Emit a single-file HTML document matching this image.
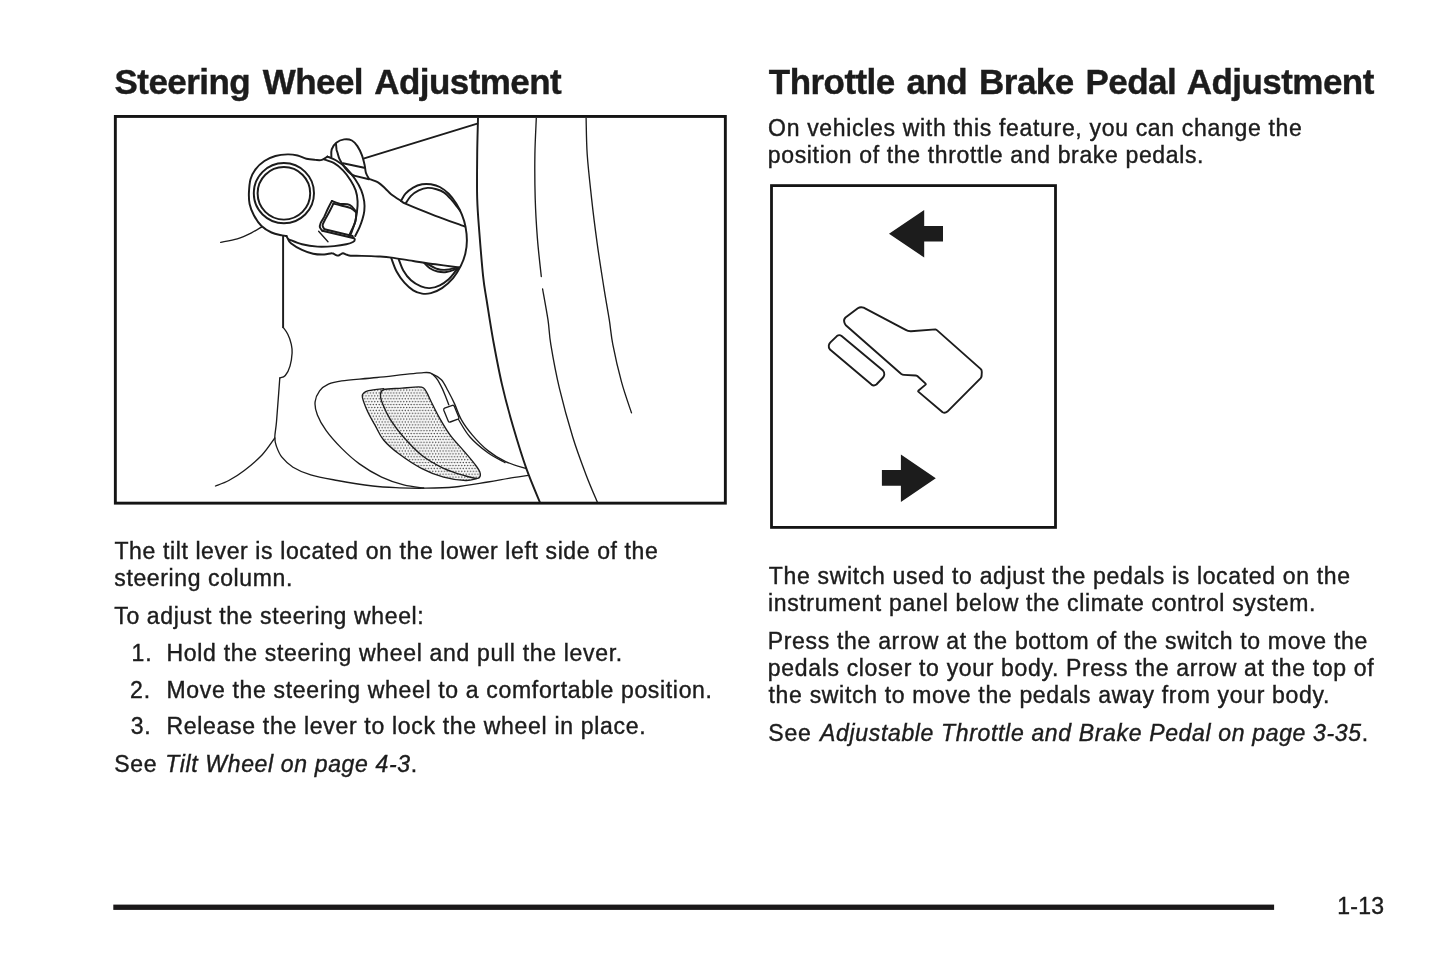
<!DOCTYPE html>
<html lang="en">
<head>
<meta charset="utf-8">
<title>Steering Wheel Adjustment</title>
<style>
html,body{margin:0;padding:0;background:#fff;}
body{width:1445px;height:966px;position:relative;overflow:hidden;
 font-family:"Liberation Sans",Arial,Helvetica,sans-serif;color:#1c1c1c;}
.t{position:absolute;white-space:nowrap;margin:0;padding:0;-webkit-text-stroke:0.4px #1c1c1c;}
#txt{position:absolute;left:0;top:0;width:1445px;height:966px;will-change:transform;}
svg{position:absolute;left:0;top:0;overflow:visible;}
</style>
</head>
<body>
<svg width="1445" height="966" viewBox="0 0 1445 966">
<rect x="115.35" y="116.45" width="610" height="386.7" fill="#fff" stroke="#141414" stroke-width="2.9"/>
<rect x="771.5" y="185.6" width="284" height="341.8" fill="#fff" stroke="#141414" stroke-width="2.8"/>
<rect x="113.3" y="904.6" width="1160.8" height="5.3" fill="#1a1819"/>
</svg>
<svg width="1445" height="966" viewBox="0 0 1445 966">
<defs><pattern id="dots" width="2.9" height="5.8" patternUnits="userSpaceOnUse"><rect width="2.9" height="5.8" fill="#fbfbfb"/><circle cx="0.72" cy="1.45" r="0.74" fill="#404040"/><circle cx="2.17" cy="4.35" r="0.74" fill="#404040"/></pattern></defs>
<clipPath id="lbox"><rect x="117" y="118" width="607.5" height="384"/></clipPath>
<g clip-path="url(#lbox)">
<path d="M383.8 388.6C381.2 388.9 371.9 389.8 368.5 390.6C365.1 391.4 364.6 392.1 363.6 393.2C362.6 394.3 361.7 394.3 362.4 397.4C363.1 400.4 365.4 406.7 367.6 411.5C369.8 416.3 372.8 421.4 375.5 426.1C378.2 430.9 379.8 435.4 383.6 440.0C387.4 444.6 392.2 448.8 398.5 453.5C404.8 458.2 413.9 464.4 421.4 468.3C428.9 472.2 436.2 475.1 443.6 477.1C451.0 479.1 460.2 480.3 465.7 480.5C471.2 480.7 474.9 478.8 476.8 478.5L465.7 476L443.6 468.3L421.4 455L403.7 437.3L390.4 419.6L382.7 404.1L380.5 395.2Z" fill="url(#dots)" stroke="none"/>
<path d="M383.8 389.7C387.4 388.5 396.2 388.7 402.0 388.2C407.8 387.7 414.9 386.9 418.5 386.9C422.1 386.9 422.2 386.9 423.6 388.0C425.1 389.1 426.0 391.2 427.2 393.3C428.4 395.4 428.6 396.5 430.6 400.5C432.6 404.5 435.9 411.6 439.2 417.4C442.5 423.2 446.1 429.6 450.2 435.1C454.2 440.6 459.4 445.8 463.5 450.6C467.6 455.4 471.8 460.2 474.6 463.9C477.4 467.6 479.6 470.3 480.1 472.7C480.7 475.1 480.3 477.8 477.9 478.3C475.5 478.9 471.4 477.7 465.7 476.0C460.0 474.3 451.0 471.8 443.6 468.3C436.2 464.8 428.0 460.2 421.4 455.0C414.8 449.8 408.9 443.2 403.7 437.3C398.5 431.4 393.9 425.1 390.4 419.6C386.9 414.1 384.3 408.2 382.7 404.1C381.1 400.0 380.3 397.6 380.5 395.2C380.7 392.8 380.2 390.9 383.8 389.7Z" fill="url(#dots)" stroke="none"/>
<g fill="none" stroke="#1c1c1c" stroke-width="1.35" stroke-linecap="round" stroke-linejoin="round">
<path d="M383.8 388.6C381.2 388.9 371.9 389.8 368.5 390.6C365.1 391.4 364.6 392.1 363.6 393.2C362.6 394.3 361.7 394.3 362.4 397.4C363.1 400.4 365.4 406.7 367.6 411.5C369.8 416.3 372.8 421.4 375.5 426.1C378.2 430.9 379.8 435.4 383.6 440.0C387.4 444.6 392.2 448.8 398.5 453.5C404.8 458.2 413.9 464.4 421.4 468.3C428.9 472.2 436.2 475.1 443.6 477.1C451.0 479.1 460.2 480.3 465.7 480.5C471.2 480.7 474.9 478.8 476.8 478.5"/>
<path d="M383.8 389.7C387.4 388.5 396.2 388.7 402.0 388.2C407.8 387.7 414.9 386.9 418.5 386.9C422.1 386.9 422.2 386.9 423.6 388.0C425.1 389.1 426.0 391.2 427.2 393.3C428.4 395.4 428.6 396.5 430.6 400.5C432.6 404.5 435.9 411.6 439.2 417.4C442.5 423.2 446.1 429.6 450.2 435.1C454.2 440.6 459.4 445.8 463.5 450.6C467.6 455.4 471.8 460.2 474.6 463.9C477.4 467.6 479.6 470.3 480.1 472.7C480.7 475.1 480.3 477.8 477.9 478.3C475.5 478.9 471.4 477.7 465.7 476.0C460.0 474.3 451.0 471.8 443.6 468.3C436.2 464.8 428.0 460.2 421.4 455.0C414.8 449.8 408.9 443.2 403.7 437.3C398.5 431.4 393.9 425.1 390.4 419.6C386.9 414.1 384.3 408.2 382.7 404.1C381.1 400.0 380.3 397.6 380.5 395.2C380.7 392.8 380.2 390.9 383.8 389.7Z"/>
<path d="M318.6 231.2L328.0 241.7"/>
<path d="M283.1 327.3C283.9 328.4 286.4 331.4 287.8 334.2C289.2 337.0 290.6 341.2 291.3 344.3C292.0 347.4 292.3 349.4 292.1 353.0C291.9 356.6 291.1 362.4 290.0 366.1C288.9 369.9 287.0 373.5 285.3 375.5C283.6 377.5 280.7 377.6 279.8 378.0"/>
<path d="M279.8 378.0C279.6 380.5 279.2 385.7 278.7 393.0C278.1 400.3 277.1 414.4 276.5 421.8C275.9 429.2 274.8 433.2 274.8 437.3C274.8 441.4 275.2 442.9 276.4 446.2C277.6 449.5 279.1 453.7 281.9 457.2C284.7 460.7 288.2 464.2 293.0 467.2C297.8 470.1 303.3 472.7 310.7 474.9C318.1 477.1 327.0 478.6 337.3 480.5C347.6 482.4 362.4 484.8 372.7 486.0C383.0 487.2 390.4 487.4 399.3 487.8C408.2 488.2 416.7 488.3 425.9 488.2C435.1 488.1 444.4 488.0 454.7 487.0C465.0 486.0 478.9 483.4 487.9 482.0C496.9 480.6 501.8 479.4 508.6 478.3C515.4 477.2 525.2 475.9 528.5 475.4"/>
<path d="M220.7 242.3C223.5 241.7 232.2 240.4 237.3 238.8C242.4 237.2 247.4 234.8 251.5 232.8C255.6 230.8 260.1 227.8 261.8 226.8"/>
<path d="M274.8 438.0C272.7 440.8 267.1 449.6 262.0 455.0C256.9 460.4 249.8 466.2 244.3 470.5C238.8 474.8 233.6 477.9 228.8 480.5C224.0 483.1 217.7 485.1 215.5 486.0"/>
<path d="M536.3 118.0C536.1 124.0 535.1 140.9 534.9 154.3C534.7 167.7 534.8 184.6 535.2 198.6C535.6 212.6 536.4 225.4 537.4 238.4C538.4 251.4 540.6 270.1 541.3 276.5"/>
<path d="M542.6 289.0C543.5 294.1 546.6 310.7 548.0 319.9C549.4 329.1 548.9 332.9 550.8 344.3C552.7 355.8 555.8 373.1 559.5 388.6C563.2 404.1 568.4 422.9 572.8 437.3C577.2 451.7 582.0 464.1 586.1 474.9C590.2 485.7 595.4 497.5 597.3 502.0"/>
<path d="M586.1 118.0C586.3 124.0 586.3 140.9 587.2 154.3C588.1 167.7 590.0 183.8 591.6 198.6C593.2 213.4 595.1 228.2 597.1 242.9C599.1 257.7 601.8 274.3 603.8 287.1C605.8 299.9 607.8 310.4 609.3 319.9C610.8 329.4 610.8 334.0 612.8 344.3C614.8 354.6 618.4 370.5 621.5 381.9C624.6 393.3 629.8 407.7 631.5 412.9"/>
<path d="M526.3 468.7C522.8 467.5 512.0 464.6 505.6 461.6C499.2 458.6 493.4 455.0 487.9 450.6C482.4 446.2 476.8 440.3 472.4 435.1C468.0 429.9 464.2 424.8 461.3 419.6C458.4 414.4 456.9 408.9 454.7 404.1C452.5 399.3 450.2 394.9 448.0 390.8C445.8 386.7 444.0 382.5 441.4 379.7C438.8 376.9 435.5 375.4 432.5 374.2C429.5 373.0 432.8 372.1 423.6 372.6C414.4 373.2 390.8 376.1 377.1 377.5C363.5 378.9 349.8 379.7 341.7 380.8C333.6 381.9 332.1 382.4 328.4 384.1C324.7 385.8 321.8 387.8 319.6 390.8C317.4 393.8 315.5 397.8 315.1 401.9C314.7 405.9 315.5 410.3 317.4 415.1C319.2 419.9 322.1 425.1 326.2 430.6C330.2 436.2 336.2 442.8 341.7 448.4C347.2 453.9 352.8 459.1 359.4 463.9C366.0 468.7 374.2 473.6 381.6 477.1C389.0 480.6 396.7 483.1 403.7 484.9C410.7 486.7 420.3 487.5 423.6 488.0"/>
<path d="M432.5 374.2C433.4 375.1 436.0 377.4 437.6 379.8C439.2 382.2 440.9 385.7 442.3 388.6C443.7 391.6 444.9 394.8 446.0 397.5C447.1 400.2 448.3 403.6 448.8 404.8"/>
<path d="M458.5 419.5C460.4 422.5 465.3 431.8 470.2 437.3C475.1 442.9 482.1 448.6 487.9 452.8C493.7 457.0 502.1 461.0 505.0 462.6"/>
<path d="M444.6 408.2L452.4 405.4Q453.8 405.0 454.4 406.4L458.8 417.2Q459.3 418.6 457.9 419.2L450.2 422.0Q448.8 422.4 448.2 421.0L443.8 410.2Q443.3 408.8 444.6 408.2Z"/>
</g>
<g fill="none" stroke="#1c1c1c" stroke-width="1.95" stroke-linecap="round" stroke-linejoin="round">
<circle cx="283.9" cy="193.2" r="30.1"/><circle cx="283.9" cy="193.3" r="26.3"/>
<path d="M327.5 156.6C326.6 157.2 323.9 159.3 321.9 159.9C319.9 160.5 317.9 160.1 315.3 159.9C312.7 159.7 309.3 159.5 306.4 158.8C303.4 158.1 300.7 156.2 297.6 155.5C294.5 154.8 291.3 154.3 287.6 154.4C283.9 154.5 279.3 154.9 275.4 156.0C271.5 157.1 267.7 158.8 264.4 161.0C261.1 163.2 257.8 166.2 255.5 169.3C253.2 172.4 251.6 175.3 250.5 179.3C249.4 183.3 249.1 189.0 248.9 193.1C248.8 197.2 248.8 200.3 249.6 204.0C250.4 207.7 252.0 211.8 254.0 215.5C256.0 219.2 258.6 223.2 261.5 226.0C264.4 228.8 268.1 230.9 271.5 232.5C274.9 234.1 279.6 234.8 282.1 235.4C284.6 236.0 285.8 235.9 286.5 236.0"/>
<path d="M286.5 236.0C286.7 236.4 287.1 237.4 287.8 238.6C288.5 239.8 288.5 241.3 290.9 243.2C293.3 245.1 298.3 248.2 302.0 249.9C305.7 251.7 309.4 252.9 313.1 253.7C316.8 254.5 321.1 254.6 324.2 254.5C327.3 254.4 330.0 253.1 331.9 253.2C333.8 253.2 334.5 254.4 335.5 254.8C336.5 255.2 337.2 255.7 338.0 255.6C338.8 255.5 339.7 254.8 340.5 254.4C341.3 254.0 341.9 253.1 343.0 253.2C344.1 253.3 345.7 254.4 347.0 254.8C348.3 255.2 348.2 255.5 350.7 255.7C353.2 255.9 357.2 255.8 361.8 255.9C366.4 256.0 373.4 256.2 378.4 256.5C383.4 256.8 385.9 256.9 391.7 257.6C397.5 258.4 405.9 259.9 413.2 261.0C420.5 262.1 428.0 263.3 435.4 264.3C442.8 265.3 453.8 266.7 457.5 267.2"/>
<path d="M288.7 239.3C290.9 240.1 297.2 243.1 302.0 244.3C306.8 245.5 312.1 246.3 317.5 246.6C322.9 246.9 329.3 246.5 334.1 246.1C338.9 245.7 343.2 245.0 346.3 244.3C349.4 243.6 351.6 242.8 353.0 242.0C354.4 241.2 354.8 240.2 354.8 239.4C354.8 238.6 353.3 237.6 353.0 237.2"/>
<path d="M369.0 178.9C370.6 179.5 375.6 181.0 378.4 182.6C381.1 184.2 383.4 186.8 385.5 188.7C387.6 190.6 388.5 192.2 391.1 194.2C393.7 196.2 398.4 199.2 401.0 200.9C403.6 202.6 400.9 201.7 406.6 204.2C412.3 206.7 425.8 212.1 435.4 215.8C445.0 219.5 459.6 224.6 464.4 226.4"/>
<path d="M327.5 156.6C329.0 157.2 333.2 158.6 336.3 160.5C339.4 162.4 343.2 165.1 346.3 168.2C349.4 171.3 352.7 175.6 355.2 179.3C357.7 183.0 359.8 186.7 361.3 190.4C362.8 194.1 363.7 198.0 364.2 201.4C364.7 204.8 364.6 208.1 364.3 211.0C364.0 213.9 363.3 216.3 362.5 219.0C361.7 221.7 360.8 224.3 359.6 227.1C358.4 229.9 355.9 234.5 355.2 236.0"/>
<path d="M324.0 159.4C325.7 160.0 330.9 161.4 334.1 163.2C337.3 165.0 340.2 167.5 343.0 170.4C345.8 173.3 348.6 177.1 350.7 180.4C352.8 183.7 354.5 186.9 355.7 190.4C356.9 193.9 357.4 197.9 357.6 201.4C357.8 204.9 357.4 208.1 357.0 211.4C356.6 214.7 356.1 218.1 355.2 221.4C354.3 224.7 352.8 228.8 351.9 231.3C351.0 233.8 350.0 235.4 349.6 236.2"/>
<path d="M331.4 157.0C331.4 155.7 330.9 151.8 331.7 149.4C332.5 147.0 334.2 144.5 336.3 142.8C338.4 141.1 341.5 139.8 344.1 139.4C346.7 139.0 349.7 139.4 351.9 140.5C354.1 141.6 355.8 143.7 357.4 146.1C359.0 148.5 360.6 151.8 361.8 154.9C363.0 158.0 363.9 161.9 364.6 164.9C365.3 167.9 365.2 170.4 365.9 172.7C366.6 175.0 368.5 177.9 369.0 178.9"/>
<path d="M336.0 144.0C336.1 145.0 336.4 148.6 336.6 150.0C336.9 151.4 337.0 151.1 337.5 152.7C338.0 154.3 338.4 156.8 339.7 159.4C341.0 162.0 343.4 165.8 345.2 168.2C347.0 170.6 349.2 172.6 350.7 173.8C352.2 175.0 353.4 175.3 354.0 175.6"/>
<path d="M343.0 163.2L364.2 167.8"/>
<path d="M354.0 175.6L369.0 179.3"/>
<path d="M364.2 158.4L477.3 123.6"/>
<path d="M355.9 211.2C354.8 210.1 352.3 206.1 349.6 204.8C346.9 203.6 342.6 204.3 339.7 203.7C336.8 203.0 333.2 201.4 331.9 200.9"/>
<path d="M331.9 200.9C331.2 202.2 329.3 205.8 328.0 208.5C326.7 211.2 325.4 214.4 324.2 216.9C322.9 219.4 321.2 221.8 320.5 223.5C319.8 225.2 319.6 226.1 319.9 227.3C320.2 228.5 321.9 230.2 322.3 230.8"/>
<path d="M322.3 230.8L353.0 238.0"/>
<path d="M324.6 229.3L352.6 236.0"/>
<path d="M356.3 212.6C355.4 211.8 353.1 209.2 350.7 208.1C348.3 206.9 344.9 206.4 342.0 205.7C339.1 204.9 334.8 203.9 333.4 203.6"/>
<path d="M333.4 203.6C332.8 204.9 330.9 208.9 329.5 211.5C328.1 214.1 326.4 216.9 325.3 219.2C324.2 221.5 322.8 223.5 322.6 225.2C322.5 226.9 324.1 228.5 324.4 229.2"/>
<path d="M356.3 212.6C356.1 214.1 356.2 218.6 355.4 221.6C354.6 224.6 352.5 228.3 351.5 230.5C350.5 232.7 349.8 234.2 349.4 235.0"/>
<path d="M401.0 200.9C401.8 199.7 403.5 195.9 405.5 193.7C407.5 191.5 410.4 189.2 413.2 187.6C416.0 186.0 419.2 184.9 422.1 184.3C425.1 183.8 427.9 183.9 430.9 184.3C433.8 184.8 436.8 185.4 439.8 187.0C442.8 188.6 445.9 190.9 448.7 193.7C451.5 196.5 454.2 200.2 456.4 203.7C458.6 207.2 460.4 210.9 461.9 214.7C463.4 218.5 464.7 222.3 465.5 226.6C466.3 230.9 466.9 236.0 466.9 240.5C466.9 245.0 466.3 249.6 465.3 253.8C464.3 258.0 462.8 261.8 460.8 265.9C458.8 269.9 456.2 274.4 453.1 278.1C450.0 281.8 445.7 285.6 442.0 288.1C438.3 290.6 434.2 292.2 430.9 293.1C427.6 294.0 425.1 294.1 422.1 293.6C419.2 293.1 416.1 292.1 413.2 290.3C410.2 288.5 407.2 285.7 404.4 282.6C401.6 279.5 398.8 275.6 396.6 271.5C394.4 267.4 392.2 260.4 391.3 258.2"/>
<path d="M406.0 202.8C406.8 201.7 408.9 198.0 411.0 195.9C413.1 193.8 416.0 191.7 418.8 190.4C421.6 189.1 424.7 188.1 427.6 187.9C430.6 187.7 433.7 188.5 436.5 189.3C439.3 190.1 441.6 190.8 444.2 192.6C446.8 194.4 449.8 197.9 452.0 200.3C454.2 202.7 455.9 205.3 457.2 207.0C458.5 208.7 459.5 210.0 460.0 210.6"/>
<path d="M398.8 259.5C399.6 261.3 401.3 266.9 403.3 270.4C405.3 273.9 408.1 277.6 411.0 280.3C413.9 283.0 417.9 285.1 421.0 286.4C424.1 287.7 426.7 288.3 429.8 288.1C432.9 287.9 436.7 286.8 439.8 285.3C442.9 283.8 446.1 281.5 448.7 279.2C451.3 276.9 453.6 273.5 455.3 271.5C457.1 269.5 458.6 267.9 459.2 267.2"/>
<path d="M424.3 263.0C425.2 263.9 427.6 266.8 429.8 268.2C432.0 269.6 434.8 270.9 437.6 271.5C440.4 272.1 443.4 272.4 446.4 272.0C449.3 271.6 453.3 270.1 455.3 269.3C457.3 268.5 458.0 267.7 458.5 267.4"/>
<path d="M427.6 264.0C429.3 264.8 434.5 268.0 437.6 269.0C440.7 270.0 443.4 270.0 446.4 269.8C449.3 269.6 453.8 268.2 455.3 267.9"/>
<path d="M283.1 236.0L283.1 327.3"/>
<path d="M478.0 118.0C477.9 124.0 477.3 140.9 477.2 154.3C477.1 167.7 476.8 185.7 477.2 198.6C477.6 211.5 478.3 218.9 479.3 231.8C480.3 244.7 481.9 264.7 483.1 276.1C484.3 287.5 484.9 289.4 486.6 300.0C488.3 310.6 490.6 325.9 493.1 339.9C495.7 353.9 498.6 369.7 501.9 384.1C505.2 398.5 508.9 412.2 513.0 426.2C517.1 440.2 521.8 455.7 526.3 468.3C530.8 480.9 537.5 496.4 539.8 502.0"/>
</g></g></svg>
<svg width="1445" height="966" viewBox="0 0 1445 966">
<g fill="#1c1c1c" stroke="none">
<path d="M889 233.8 L924.2 210.1 L924.2 226.1 L943 226.1 L943 241.6 L924.2 241.6 L924.2 257.5 Z"/>
<path d="M935.8 478.2 L900.9 454.4 L900.9 469.9 L881.9 469.9 L881.9 485.8 L900.9 485.8 L900.9 502.1 Z"/>
</g>
<g fill="none" stroke="#1c1c1c" stroke-width="1.9" stroke-linejoin="round" stroke-linecap="round">
<path d="M844.3 322.2 Q843.4 319.5 845.5 317.5 L857.8 308.3 Q860.5 306.4 863.6 307.7 L905.7 329.9 Q908 331.3 911 331.2 L935.4 329.4 Q936.5 329.6 937.2 330.4 L980.3 368.6 Q982 370 981.8 372 L981.6 376 Q981.4 377.4 980.5 378.4 L947.4 411.6 Q945 413.6 942.6 412.2 L918.3 391.6 Q917.9 391.2 918.3 390.8 L925.6 384.6 Q926.1 384.1 925.6 383.6 L917.3 376 Q916.6 375.5 915.6 375.45 L904 374.9 Q902.5 374.8 901 373.8 L845.8 325.2 Q844.8 324 844.3 322.2 Z"/>
<path d="M836.9 336.1 Q839.3 334.2 841.6 336 L883 370.6 Q884.6 372.2 884.3 374.6 Q884 376.5 882.6 378 L876.4 384.5 Q873.9 386.3 871.5 384.6 L830 349.6 Q828.4 347.8 828.8 345.4 Q829.2 343.6 830.4 342.4 Z"/>
</g>
</svg>
<div id="txt">
<div class="t" id="h1" style="left:114.55px;top:62px;font-size:35px;line-height:39px;letter-spacing:-0.550px;word-spacing:3.325px;font-weight:bold">Steering Wheel Adjustment</div>
<div class="t" id="h2" style="left:768.85px;top:62px;font-size:35px;line-height:39px;letter-spacing:-0.550px;word-spacing:2.737px;font-weight:bold">Throttle and Brake Pedal Adjustment</div>
<div class="t" id="l1" style="left:114.45px;top:538px;font-size:23px;line-height:26px;letter-spacing:0.616px;">The tilt lever is located on the lower left side of the</div>
<div class="t" id="l2" style="left:114.30px;top:565px;font-size:23px;line-height:26px;letter-spacing:0.617px;">steering column.</div>
<div class="t" id="l3" style="left:114.25px;top:603px;font-size:23px;line-height:26px;letter-spacing:0.643px;">To adjust the steering wheel:</div>
<div class="t" id="n1" style="left:131.60px;top:640px;font-size:23px;line-height:26px;letter-spacing:0.750px;">1.</div>
<div class="t" id="i1" style="left:166.55px;top:640px;font-size:23px;line-height:26px;letter-spacing:0.679px;">Hold the steering wheel and pull the lever.</div>
<div class="t" id="n2" style="left:130.10px;top:677px;font-size:23px;line-height:26px;letter-spacing:0.750px;">2.</div>
<div class="t" id="i2" style="left:166.55px;top:677px;font-size:23px;line-height:26px;letter-spacing:0.668px;">Move the steering wheel to a comfortable position.</div>
<div class="t" id="n3" style="left:130.75px;top:713px;font-size:23px;line-height:26px;letter-spacing:0.750px;">3.</div>
<div class="t" id="i3" style="left:166.55px;top:713px;font-size:23px;line-height:26px;letter-spacing:0.688px;">Release the lever to lock the wheel in place.</div>
<div class="t" id="s1" style="left:114.15px;top:751px;font-size:23px;line-height:26px;letter-spacing:0.750px;">See</div>
<div class="t" id="s1i" style="left:165.25px;top:751px;font-size:23px;line-height:26px;letter-spacing:0.648px;"><i>Tilt Wheel on page 4-3</i>.</div>
<div class="t" id="r1" style="left:768.10px;top:115px;font-size:23px;line-height:26px;letter-spacing:0.677px;">On vehicles with this feature, you can change the</div>
<div class="t" id="r2" style="left:767.85px;top:142px;font-size:23px;line-height:26px;letter-spacing:0.646px;">position of the throttle and brake pedals.</div>
<div class="t" id="r3" style="left:768.85px;top:563px;font-size:23px;line-height:26px;letter-spacing:0.665px;">The switch used to adjust the pedals is located on the</div>
<div class="t" id="r4" style="left:767.95px;top:590px;font-size:23px;line-height:26px;letter-spacing:0.658px;">instrument panel below the climate control system.</div>
<div class="t" id="r5" style="left:767.75px;top:628px;font-size:23px;line-height:26px;letter-spacing:0.685px;">Press the arrow at the bottom of the switch to move the</div>
<div class="t" id="r6" style="left:767.85px;top:655px;font-size:23px;line-height:26px;letter-spacing:0.665px;">pedals closer to your body. Press the arrow at the top of</div>
<div class="t" id="r7" style="left:768.55px;top:682px;font-size:23px;line-height:26px;letter-spacing:0.679px;">the switch to move the pedals away from your body.</div>
<div class="t" id="s2" style="left:768.35px;top:720px;font-size:23px;line-height:26px;letter-spacing:0.750px;">See</div>
<div class="t" id="s2i" style="left:820.10px;top:720px;font-size:23px;line-height:26px;letter-spacing:0.656px;"><i>Adjustable Throttle and Brake Pedal on page 3-35</i>.</div>
<div class="t" id="pn" style="left:1337.20px;top:893px;font-size:23px;line-height:26px;letter-spacing:0.250px;">1-13</div>
</div>
</body>
</html>
